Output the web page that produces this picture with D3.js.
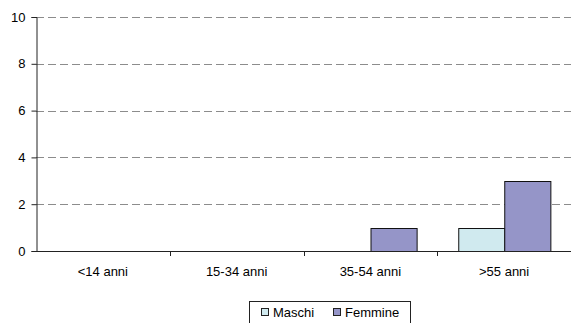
<!DOCTYPE html>
<html>
<head>
<meta charset="utf-8">
<script src="https://cdn.jsdelivr.net/npm/d3@7"></script>
<style>
  html, body { margin: 0; padding: 0; background: #fff; }
  svg { display: block; font-family: "Liberation Sans", Arial, sans-serif; }
</style>
</head>
<body>
<svg id="chart" width="571" height="323"></svg>
<script>
// Age groups and counts per sex
const categories = ["<14 anni", "15-34 anni", "35-54 anni", ">55 anni"];
const seriesNames = ["Maschi", "Femmine"];
const maschi = [0, 0, 0, 1];
const femmine = [0, 0, 1, 3];
const yTicks = [0, 2, 4, 6, 8, 10];

const colors = { Maschi: "#d0eaef", Femmine: "#9595c8" };

(function () {
  const svg = d3.select("#chart");
  const plotLeft = 36, plotRight = 571, plotTop = 17, plotBottom = 251;

  const x0 = d3.scaleBand().domain(categories).range([plotLeft, plotRight]).padding(0);
  const x1 = d3.scaleBand().domain(seriesNames).range([0, x0.bandwidth()])
    .paddingInner(0).paddingOuter(0.45);
  const y = d3.scaleLinear().domain([0, 10]).range([plotBottom, plotTop]);

  // dashed horizontal gridlines
  svg.append("g")
    .selectAll("line")
    .data(yTicks.filter(d => d > 0))
    .join("line")
    .attr("x1", plotLeft).attr("x2", plotRight)
    .attr("y1", d => Math.round(y(d)) + 0.5).attr("y2", d => Math.round(y(d)) + 0.5)
    .attr("stroke", "#8c8c8c")
    .attr("stroke-dasharray", "8,4");

  // bars
  const rows = categories.map((c, i) => ({ cat: c, values: [
    { key: "Maschi", v: maschi[i] }, { key: "Femmine", v: femmine[i] }
  ]}));

  svg.append("g")
    .selectAll("g")
    .data(rows)
    .join("g")
    .attr("transform", d => `translate(${x0(d.cat)},0)`)
    .selectAll("rect")
    .data(d => d.values.filter(e => e.v > 0))
    .join("rect")
    .attr("x", d => Math.round(x1(d.key)) + 0.5)
    .attr("y", d => Math.round(y(d.v)) + 0.5)
    .attr("width", x1.bandwidth())
    .attr("height", d => plotBottom - Math.round(y(d.v)))
    .attr("fill", d => colors[d.key])
    .attr("stroke", "#111")
    .attr("stroke-width", 1);

  // y axis
  const yAxis = svg.append("g")
    .attr("transform", `translate(${plotLeft + 0.5},0)`)
    .call(d3.axisLeft(y).tickValues(yTicks).tickSize(5).tickPadding(6).tickFormat(d3.format("d")));
  yAxis.select(".domain").attr("stroke", "#222");
  yAxis.selectAll(".tick line").attr("stroke", "#222");
  yAxis.selectAll("text").attr("font-size", 13).attr("fill", "#000")
    .attr("font-family", "Liberation Sans, Arial, sans-serif");

  // x axis baseline with ticks at category boundaries
  const xg = svg.append("g");
  xg.append("line")
    .attr("x1", plotLeft).attr("x2", plotRight)
    .attr("y1", plotBottom + 0.5).attr("y2", plotBottom + 0.5)
    .attr("stroke", "#222");
  const boundaries = categories.slice(1).map(c => x0(c));
  xg.selectAll(".bt")
    .data(boundaries)
    .join("line")
    .attr("class", "bt")
    .attr("x1", d => Math.round(d) + 0.5).attr("x2", d => Math.round(d) + 0.5)
    .attr("y1", plotBottom).attr("y2", plotBottom + 5)
    .attr("stroke", "#222");
  xg.selectAll("text")
    .data(categories)
    .join("text")
    .attr("x", d => x0(d) + x0.bandwidth() / 2)
    .attr("y", 276)
    .attr("text-anchor", "middle")
    .attr("font-size", 13)
    .text(d => d);

  // legend
  const lg = svg.append("g");
  lg.append("rect")
    .attr("x", 249.5).attr("y", 301.5)
    .attr("width", 161).attr("height", 30)
    .attr("fill", "#fff").attr("stroke", "#222");
  const legendX = [261, 333];
  seriesNames.forEach((s, i) => {
    lg.append("rect")
      .attr("x", legendX[i] + 0.5).attr("y", 308.5)
      .attr("width", 7).attr("height", 7)
      .attr("fill", colors[s]).attr("stroke", "#222");
    lg.append("text")
      .attr("x", legendX[i] + 12).attr("y", 316.5)
      .attr("font-size", 13)
      .text(s);
  });
})();
</script>
</body>
</html>
